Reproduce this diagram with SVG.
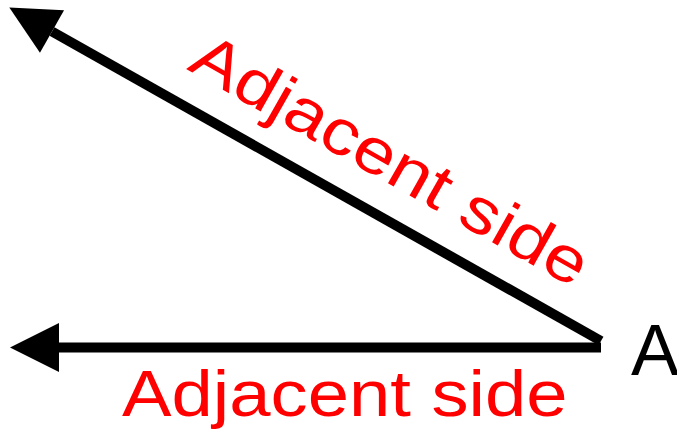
<svg xmlns="http://www.w3.org/2000/svg" width="677" height="437" viewBox="0 0 677 437">
  <style>
    .side { stroke: #000; stroke-width: 10; fill: none; marker-end: url(#arrow); }
    .lbl { font-family: "Liberation Sans", Arial, sans-serif; fill: #ff0000; font-size: 64px; }
    .vtx { font-family: "Liberation Sans", Arial, sans-serif; fill: #000; font-size: 72px; }
  </style>
  <defs>
    <marker id="arrow" markerUnits="userSpaceOnUse" markerWidth="50" markerHeight="50" refX="0" refY="24.5" orient="auto" overflow="visible">
      <path d="M0,0 L49,24.5 L0,49 Z" fill="#000"/>
    </marker>
  </defs>
  <g id="connectors">
    <line class="side" x1="601" y1="347.5" x2="59" y2="347.5"/>
    <line class="side" x1="601" y1="341" x2="52" y2="31.5"/>
  </g>
  <g id="label-diagonal">
    <text class="lbl" transform="translate(186,69) rotate(29.5) scale(1.16,1)" x="0" y="0">Adjacent side</text>
  </g>
  <g id="label-bottom">
    <text class="lbl" transform="translate(122,416) scale(1.16,1)" x="0" y="0">Adjacent side</text>
  </g>
  <g id="vertex-A">
    <text class="vtx" x="631" y="375">A</text>
  </g>
</svg>
